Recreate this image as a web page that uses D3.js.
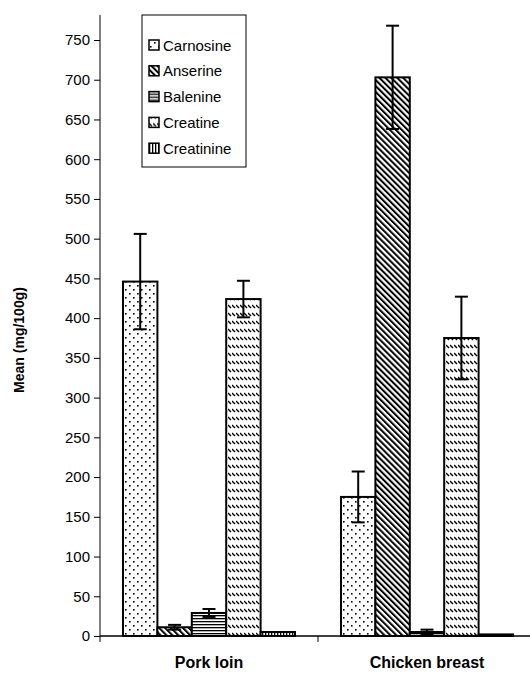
<!DOCTYPE html>
<html lang="en">
<head>
<meta charset="UTF-8">
<title>Mean (mg/100g)</title>
<style type="text/css">
  body { margin: 0; background: #fff; }
  svg { font-family: "Liberation Sans", Arial, sans-serif; }
  .tick text { font-size: 15px; fill: #000; }
  .bar { stroke: #000; stroke-width: 2px; }
  .err { stroke: #000; stroke-width: 2px; }
</style>
</head>
<body>
<svg id="graph" width="530" height="673"></svg>

<script src="https://cdn.jsdelivr.net/npm/d3@7"></script>
<script>
  "use strict";

  var categories = ["Pork loin", "Chicken breast"];
  var series = ["Carnosine", "Anserine", "Balenine", "Creatine", "Creatinine"];
  var porkMean = [446, 11, 29, 424, 5];
  var porkErr = [60, 3, 5, 23, 0];
  var chickenMean = [175, 703, 5, 375, 2];
  var chickenErr = [32, 65, 3, 52, 0];
  var yTicks = [0, 50, 100, 150, 200, 250, 300, 350, 400, 450, 500, 550, 600, 650, 700, 750];

  var means = [porkMean, chickenMean];
  var errs = [porkErr, chickenErr];

  var svg = d3.select("#graph");

  // fill patterns
  var defs = svg.append("defs");
  var pat;

  pat = defs.append("pattern").attr("id", "p0").attr("patternUnits", "userSpaceOnUse")
    .attr("width", 8).attr("height", 8);
  pat.append("rect").attr("width", 8).attr("height", 8).attr("fill", "#fff");
  pat.append("rect").attr("x", 1).attr("y", 1).attr("width", 1.6).attr("height", 1.6).attr("fill", "#000");
  pat.append("rect").attr("x", 5).attr("y", 5).attr("width", 1.6).attr("height", 1.6).attr("fill", "#000");

  pat = defs.append("pattern").attr("id", "p1").attr("patternUnits", "userSpaceOnUse")
    .attr("width", 4.2).attr("height", 4.2).attr("patternTransform", "rotate(-45)");
  pat.append("rect").attr("width", 4.2).attr("height", 4.2).attr("fill", "#fff");
  pat.append("rect").attr("width", 2).attr("height", 4.2).attr("fill", "#000");

  pat = defs.append("pattern").attr("id", "p2").attr("patternUnits", "userSpaceOnUse")
    .attr("width", 4).attr("height", 3);
  pat.append("rect").attr("width", 4).attr("height", 3).attr("fill", "#fff");
  pat.append("rect").attr("width", 4).attr("height", 1.3).attr("fill", "#000");

  pat = defs.append("pattern").attr("id", "p3").attr("patternUnits", "userSpaceOnUse")
    .attr("width", 4).attr("height", 8);
  pat.append("rect").attr("width", 4).attr("height", 8).attr("fill", "#fff");
  pat.append("line").attr("x1", 0).attr("y1", 1).attr("x2", 3).attr("y2", 4)
    .attr("stroke", "#000").attr("stroke-width", 1.4);

  pat = defs.append("pattern").attr("id", "p4").attr("patternUnits", "userSpaceOnUse")
    .attr("width", 3).attr("height", 4);
  pat.append("rect").attr("width", 3).attr("height", 4).attr("fill", "#fff");
  pat.append("rect").attr("width", 1.3).attr("height", 4).attr("fill", "#000");

  var x0 = d3.scaleBand().domain(categories).range([100, 536]);
  var x1 = d3.scaleBand().domain(series).range([23, x0.bandwidth() - 23]);
  var y = d3.scaleLinear().domain([0, 750]).range([636, 40]);

  // y axis
  var yAxis = svg.append("g").attr("transform", "translate(100,0)")
    .call(d3.axisLeft(y).tickValues(yTicks).tickSize(6).tickPadding(4));
  yAxis.select(".domain").remove();
  yAxis.selectAll(".tick line").attr("stroke-width", 1);
  svg.append("line").attr("x1", 100).attr("x2", 100).attr("y1", 15).attr("y2", y(0))
    .attr("stroke", "#000").attr("stroke-width", 1);

  // x axis
  svg.append("line").attr("x1", 100).attr("x2", 530).attr("y1", y(0)).attr("y2", y(0))
    .attr("stroke", "#000").attr("stroke-width", 1.5);
  svg.selectAll(".xtick").data(categories).enter().append("line")
    .attr("x1", function(d) { return x0(d); }).attr("x2", function(d) { return x0(d); })
    .attr("y1", y(0)).attr("y2", y(0) + 6).attr("stroke", "#000");
  svg.selectAll(".xlabel").data(categories).enter().append("text")
    .attr("x", function(d) { return x0(d) + x0.bandwidth() / 2; })
    .attr("y", 668).attr("text-anchor", "middle")
    .attr("font-size", "16px").attr("font-weight", "bold")
    .text(function(d) { return d; });

  svg.append("text").attr("transform", "translate(24,340) rotate(-90)")
    .attr("text-anchor", "middle").attr("font-size", "14px").attr("font-weight", "bold")
    .text("Mean (mg/100g)");

  // bars
  var groups = svg.selectAll(".grp").data(categories).enter().append("g")
    .attr("transform", function(d) { return "translate(" + x0(d) + ",0)"; });

  groups.each(function(c, ci) {
    var g = d3.select(this);
    var rows = series.map(function(s, si) {
      return { s: s, i: si, v: means[ci][si], e: errs[ci][si] };
    });
    g.selectAll("rect").data(rows).enter().append("rect")
      .attr("class", "bar")
      .attr("x", function(d) { return x1(d.s); })
      .attr("y", function(d) { return y(d.v); })
      .attr("width", x1.bandwidth())
      .attr("height", function(d) { return y(0) - y(d.v); })
      .attr("fill", function(d) { return "url(#p" + d.i + ")"; });

    var eb = g.selectAll(".eb").data(rows.filter(function(d) { return d.e > 0; })).enter().append("g");
    eb.append("line").attr("class", "err")
      .attr("x1", function(d) { return x1(d.s) + x1.bandwidth() / 2; })
      .attr("x2", function(d) { return x1(d.s) + x1.bandwidth() / 2; })
      .attr("y1", function(d) { return y(d.v - d.e); })
      .attr("y2", function(d) { return y(d.v + d.e); });
    [1, -1].forEach(function(sign) {
      eb.append("line").attr("class", "err")
        .attr("x1", function(d) { return x1(d.s) + x1.bandwidth() / 2 - 6.5; })
        .attr("x2", function(d) { return x1(d.s) + x1.bandwidth() / 2 + 6.5; })
        .attr("y1", function(d) { return y(d.v + sign * d.e); })
        .attr("y2", function(d) { return y(d.v + sign * d.e); });
    });
  });

  // legend
  var legend = svg.append("g");
  legend.append("rect").attr("x", 142).attr("y", 15).attr("width", 104).attr("height", 152)
    .attr("fill", "#fff").attr("stroke", "#000").attr("stroke-width", 1);
  var items = legend.selectAll(".item").data(series).enter().append("g")
    .attr("transform", function(d, i) { return "translate(149," + (45 + i * 25.8) + ")"; });
  items.append("rect").attr("x", 0).attr("y", -5).attr("width", 10).attr("height", 10)
    .attr("fill", function(d, i) { return "url(#p" + i + ")"; })
    .attr("stroke", "#000").attr("stroke-width", 1.5);
  items.append("text").attr("x", 14).attr("y", 5.5).attr("font-size", "15px")
    .text(function(d) { return d; });
</script>
</body>
</html>
